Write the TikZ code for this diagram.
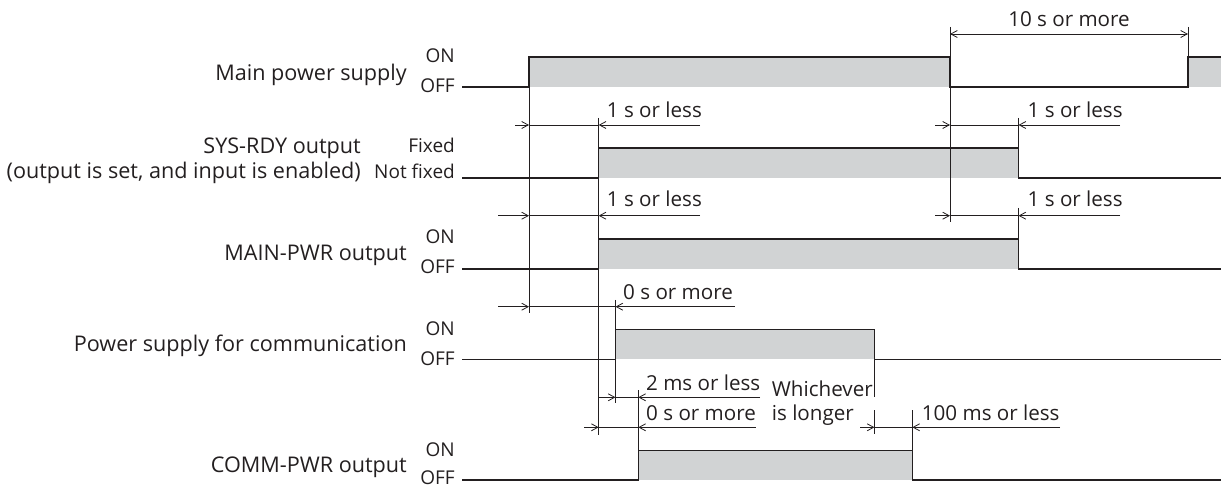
\documentclass[tikz,border=0pt]{standalone}
\usepackage{fontspec}
\setmainfont{Open Sans}
\usetikzlibrary{arrows.meta}
\definecolor{ink}{HTML}{231F20}
\definecolor{greyfill}{HTML}{D1D3D4}
\begin{document}
\begin{tikzpicture}[x=1pt,y=-1pt,
  sig/.style={draw=ink,line width=1.4pt,line join=miter},
  pulse/.style={fill=greyfill,draw=none},
  ext/.style={draw=ink,line width=0.8pt},
  barb/.tip={Straight Barb[length=6.5pt,width=7pt]},
  dimarrow/.style={draw=ink,line width=0.8pt,-barb},
  lbl/.style={anchor=base east,inner sep=0pt,text=ink,font=\fontsize{21.6}{24}\selectfont},
  lvl/.style={anchor=base east,inner sep=0pt,text=ink,font=\fontsize{19}{21}\selectfont},
  dimtxt/.style={anchor=base west,inner sep=0pt,text=ink,font=\fontsize{20.6}{24}\selectfont}]
\useasboundingbox (0,0) rectangle (1221,486);

% ---- signal fills
\path[pulse] (529,57) rectangle (950,87);
\path[pulse] (1188,57) rectangle (1221,87);
\path[pulse] (598.7,148) rectangle (1018.5,178);
\path[pulse] (598.7,239) rectangle (1018.5,269);
\path[pulse] (615.5,329.3) rectangle (874.5,359.3);
\path[pulse] (638.3,450.7) rectangle (912.3,480);

% ---- signal lines
\draw[sig] (462,87) -- (529,87) -- (529,57) -- (950,57) -- (950,87) -- (1188,87) -- (1188,57) -- (1221,57);
\draw[sig] (462,178) -- (598.7,178) -- (598.7,148) -- (1018.5,148) -- (1018.5,178) -- (1221,178);
\draw[sig] (462,269) -- (598.7,269) -- (598.7,239) -- (1018.5,239) -- (1018.5,269) -- (1221,269);
\draw[sig] (462,359.3) -- (615.5,359.3) -- (615.5,329.3) -- (874.5,329.3) -- (874.5,359.3) -- (1221,359.3);
\draw[sig] (462,480) -- (638.3,480) -- (638.3,450.7) -- (912.3,450.7) -- (912.3,480) -- (1221,480);

% ---- extension lines
\draw[ext] (529,87) -- (529,313);
\draw[ext] (598.7,118) -- (598.7,435);
\draw[ext] (615.5,300) -- (615.5,403);
\draw[ext] (638.3,390) -- (638.3,450.7);
\draw[ext] (874.5,359.3) -- (874.5,397);
\draw[ext] (874.5,410) -- (874.5,434);
\draw[ext] (912.3,410) -- (912.3,450.7);
\draw[ext] (950,27) -- (950,222);
\draw[ext] (1018.5,118) -- (1018.5,148);
\draw[ext] (1018.5,208) -- (1018.5,239);
\draw[ext] (1188,27) -- (1188,57);

% ---- dimension lines
\draw[ext,barb-barb] (950,34) -- (1188,34);

\draw[dimarrow] (515,125) -- (529,125);
\draw[ext] (529,125) -- (598.7,125);
\draw[dimarrow] (700,125) -- (598.7,125);
\draw[dimarrow] (935,125) -- (950,125);
\draw[ext] (950,125) -- (1018.5,125);
\draw[dimarrow] (1120,125) -- (1018.5,125);

\draw[dimarrow] (498,215.7) -- (529,215.7);
\draw[ext] (529,215.7) -- (598.7,215.7);
\draw[dimarrow] (700,215.7) -- (598.7,215.7);
\draw[dimarrow] (935,215.7) -- (950,215.7);
\draw[ext] (950,215.7) -- (1018.5,215.7);
\draw[dimarrow] (1120,215.7) -- (1018.5,215.7);

\draw[dimarrow] (498,306.7) -- (529,306.7);
\draw[ext] (529,306.7) -- (615.5,306.7);
\draw[dimarrow] (735,306.7) -- (615.5,306.7);

\draw[dimarrow] (599,397.3) -- (615.5,397.3);
\draw[ext] (615.5,397.3) -- (638.3,397.3);
\draw[dimarrow] (760,397.3) -- (638.3,397.3);

\draw[dimarrow] (584,427.3) -- (598.7,427.3);
\draw[ext] (598.7,427.3) -- (638.3,427.3);
\draw[dimarrow] (755.7,427.3) -- (638.3,427.3);

\draw[dimarrow] (860,427.3) -- (874.5,427.3);
\draw[ext] (874.5,427.3) -- (912.3,427.3);
\draw[dimarrow] (1060,427.3) -- (912.3,427.3);

% ---- signal names
\node[lbl] (n1) at (407,80.7) {Main power supply};
\node[lbl] (n2a) at (361,154) {SYS-RDY output};
\node[lbl] (n2b) at (361,178.3) {(output is set, and input is enabled)};
\node[lbl] (n3) at (407,260.7) {MAIN-PWR output};
\node[lbl] (n4) at (407,351.7) {Power supply for communication};
\node[lbl] (n5) at (407,472.7) {COMM-PWR output};

% ---- level labels
\node[lvl] (on1) at (455,62.5) {ON};
\node[lvl] (off1) at (455,93) {OFF};
\node[lvl] (fx2) at (455,153) {Fixed};
\node[lvl] (nf2) at (455,178.3) {Not fixed};
\node[lvl] (on3) at (455,244) {ON};
\node[lvl] (off3) at (455,274) {OFF};
\node[lvl] (on4) at (455,335) {ON};
\node[lvl] (off4) at (455,365) {OFF};
\node[lvl] (on5) at (455,456.5) {ON};
\node[lvl] (off5) at (455,484.5) {OFF};

% ---- dimension texts
\node[dimtxt,anchor=base] (d10) at (1069,26.7) {10 s or more};
\node[dimtxt] (d2l) at (606.7,117.3) {1 s or less};
\node[dimtxt] (d2r) at (1027.5,117.3) {1 s or less};
\node[dimtxt] (d3l) at (606.7,206.7) {1 s or less};
\node[dimtxt] (d3r) at (1027.5,206.7) {1 s or less};
\node[dimtxt] (d4) at (623,299.3) {0 s or more};
\node[dimtxt] (d5a) at (646,390) {2 ms or less};
\node[dimtxt] (d5b) at (646,420) {0 s or more};
\node[dimtxt] (w1) at (771.7,396) {Whichever};
\node[dimtxt] (w2) at (771.7,420) {is longer};
\node[dimtxt] (d5c) at (921.7,420) {100 ms or less};
\end{tikzpicture}
\end{document}
